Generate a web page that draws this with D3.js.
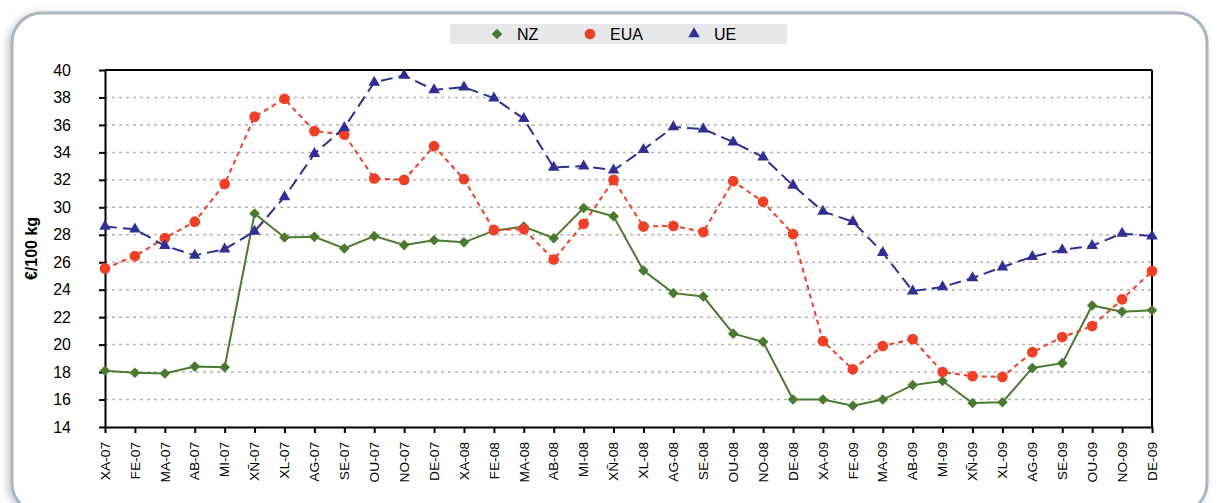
<!DOCTYPE html>
<html>
<head>
<meta charset="utf-8">
<script src="https://cdn.jsdelivr.net/npm/d3@7"></script>
<style>
  body { margin: 0; background: #fff; font-family: "Liberation Sans", Arial, sans-serif; }
  #chart { width: 1217px; height: 503px; }
</style>
</head>
<body>
<div id="chart"></div>
<script>
// month labels
const months = ["XA-07","FE-07","MA-07","AB-07","MI-07","XÑ-07","XL-07","AG-07","SE-07","OU-07","NO-07","DE-07",
                "XA-08","FE-08","MA-08","AB-08","MI-08","XÑ-08","XL-08","AG-08","SE-08","OU-08","NO-08","DE-08",
                "XA-09","FE-09","MA-09","AB-09","MI-09","XÑ-09","XL-09","AG-09","SE-09","OU-09","NO-09","DE-09"];

const nz  = [18.1,17.95,17.9,18.4,18.35,29.55,27.8,27.85,27.0,27.9,27.25,27.6,
             27.45,28.3,28.6,27.75,29.95,29.35,25.4,23.75,23.5,20.8,20.2,16.0,
             16.0,15.55,16.0,17.05,17.35,15.75,15.8,18.3,18.65,22.85,22.4,22.5];
const eua = [25.55,26.45,27.75,28.95,31.7,36.6,37.9,35.55,35.3,32.1,32.0,34.45,
             32.05,28.35,28.4,26.2,28.8,32.0,28.6,28.65,28.2,31.9,30.4,28.05,
             20.25,18.2,19.9,20.4,18.0,17.7,17.65,19.45,20.55,21.35,23.3,25.35];
const ue  = [28.6,28.4,27.2,26.5,26.95,28.25,30.75,33.9,35.8,39.1,39.6,38.55,
             38.75,37.95,36.45,32.9,33.0,32.7,34.2,35.85,35.7,34.75,33.65,31.6,
             29.7,28.95,26.7,23.9,24.2,24.85,25.65,26.4,26.9,27.2,28.1,27.9];

const yTicks = d3.range(14, 41, 2);

const series = [
  {name: "NZ",  values: nz,  color: "#4a7a30", dash: null,   symbol: d3.symbolDiamond2, size: 72},
  {name: "EUA", values: eua, color: "#ef3f26", dash: "5,4",  symbol: d3.symbolCircle,   size: 90},
  {name: "UE",  values: ue,  color: "#2f2f93", dash: "12,6", symbol: d3.symbolTriangle, size: 58}
];

const W = 1217, H = 503;
const margin = {top: 70, right: 65, bottom: 76, left: 105};
const width = W - margin.left - margin.right;
const height = H - margin.top - margin.bottom;

const svg = d3.select("#chart").append("svg")
  .attr("width", W)
  .attr("height", H);

// outer frame with shadow
const defs = svg.append("defs");
const f = defs.append("filter").attr("id", "sh").attr("x", "-5%").attr("y", "-5%").attr("width", "110%").attr("height", "115%");
f.append("feGaussianBlur").attr("in", "SourceAlpha").attr("stdDeviation", 4);
f.append("feOffset").attr("dx", -3).attr("dy", 2).attr("result", "b");
f.append("feFlood").attr("flood-color", "#9aa6b2").attr("flood-opacity", 0.6);
f.append("feComposite").attr("in2", "b").attr("operator", "in");
const fm = f.append("feMerge");
fm.append("feMergeNode");
fm.append("feMergeNode").attr("in", "SourceGraphic");

svg.append("rect")
  .attr("x", 12).attr("y", 13)
  .attr("width", 1195).attr("height", 500)
  .attr("rx", 30).attr("ry", 30)
  .attr("fill", "#fff")
  .attr("stroke", "#aab5c0")
  .attr("stroke-width", 3)
  .attr("filter", "url(#sh)");

const g = svg.append("g")
  .attr("transform", `translate(${margin.left},${margin.top})`);

// scales
const x = d3.scalePoint()
  .domain(months)
  .range([0, width]);

const y = d3.scaleLinear()
  .domain([14, 40])
  .range([height, 0]);

// gridlines
g.append("g")
  .selectAll("line")
  .data(yTicks.filter(d => d > 14 && d < 40))
  .enter().append("line")
  .attr("x1", 0).attr("x2", width)
  .attr("y1", d => y(d)).attr("y2", d => y(d))
  .attr("stroke", "#b3b3b3")
  .attr("stroke-width", 1.5)
  .attr("stroke-dasharray", "3,4");

// frame top + right
g.append("line").attr("x1", 0).attr("x2", width).attr("y1", 0).attr("y2", 0)
  .attr("stroke", "#000").attr("stroke-width", 2);
g.append("line").attr("x1", width).attr("x2", width).attr("y1", 0).attr("y2", height)
  .attr("stroke", "#000").attr("stroke-width", 2);

// axes
const xAxis = d3.axisBottom(x).tickSize(6).tickSizeOuter(0);
const yAxis = d3.axisLeft(y).tickValues(yTicks).tickSize(6).tickSizeOuter(0).tickPadding(28);

const xg = g.append("g")
  .attr("transform", `translate(0,${height})`)
  .call(xAxis);
xg.select(".domain").attr("stroke-width", 2);
xg.selectAll(".tick line").attr("stroke-width", 2);
xg.selectAll("text")
  .attr("transform", "rotate(-90) scale(1.15,1)")
  .attr("x", -13).attr("y", 0).attr("dy", "0.35em")
  .style("text-anchor", "end")
  .style("font-size", "12px")
  .style("font-family", "Liberation Sans, Arial, sans-serif")
  .attr("fill", "#000");

const yg = g.append("g").call(yAxis);
yg.select(".domain").attr("stroke-width", 2);
yg.selectAll(".tick line").attr("stroke-width", 2);
yg.selectAll("text")
  .style("font-size", "16px")
  .style("font-family", "Liberation Sans, Arial, sans-serif")
  .attr("fill", "#000");

// y title
svg.append("text")
  .attr("transform", `translate(37,${margin.top + height / 2}) rotate(-90)`)
  .attr("text-anchor", "middle")
  .style("font-size", "16px")
  .style("font-weight", "bold")
  .text("€/100 kg");

// lines + markers
const line = d3.line()
  .x((d, i) => x(months[i]))
  .y(d => y(d));

series.forEach(s => {
  g.append("path")
    .datum(s.values)
    .attr("fill", "none")
    .attr("stroke", s.color)
    .attr("stroke-width", 2)
    .attr("stroke-dasharray", s.dash)
    .attr("d", line);

  g.selectAll(".m-" + s.name)
    .data(s.values)
    .enter().append("path")
    .attr("class", "m-" + s.name)
    .attr("transform", (d, i) => `translate(${x(months[i])},${y(d)})`)
    .attr("d", d3.symbol().type(s.symbol).size(s.size))
    .attr("fill", s.color);
});

// legend
const leg = svg.append("g");
leg.append("rect")
  .attr("x", 450).attr("y", 24)
  .attr("width", 337).attr("height", 20)
  .attr("fill", "#e6e7e9");

const legX = [497, 590, 694];
series.forEach((s, i) => {
  leg.append("path")
    .attr("transform", `translate(${legX[i]},34)`)
    .attr("d", d3.symbol().type(s.symbol).size(s.size))
    .attr("fill", s.color);
  leg.append("text")
    .attr("x", legX[i] + 20).attr("y", 34)
    .attr("dy", "0.35em")
    .style("font-size", "16px")
    .text(s.name);
});
</script>
</body>
</html>
